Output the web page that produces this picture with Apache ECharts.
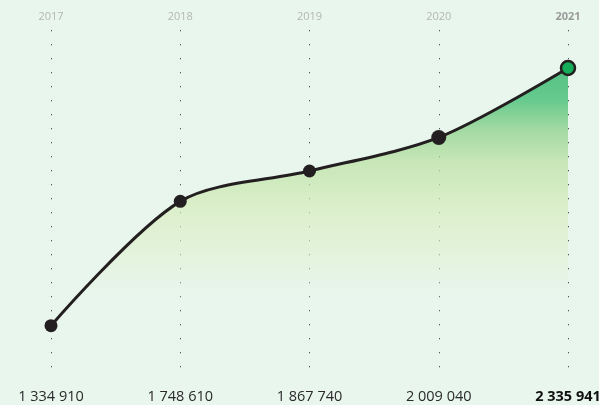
<!DOCTYPE html>
<html>
<head>
<meta charset="utf-8">
<script src="https://cdn.jsdelivr.net/npm/echarts@6/dist/echarts.min.js"></script>
<style>
html,body{margin:0;padding:0;background:#e9f6ee;}
#c{width:599px;height:405px;}
</style>
</head>
<body>
<div id="c"></div>
<script>
var years = ['2017', '2018', '2019', '2020', '2021'];
var values = [1334910, 1748610, 1867740, 2009040, 2335941];
var valueLabels = ['1 334 910', '1 748 610', '1 867 740', '2 009 040', '2 335 941'];

var chart = echarts.init(document.getElementById('c'), null, {renderer: 'canvas'});
var last = years.length - 1;

var seriesData = values.map(function (v, i) {
  var item = {value: v};
  if (i === last) {
    item.symbolSize = 14;
    item.itemStyle = {color: '#15ad5a', borderColor: '#231f20', borderWidth: 2.5};
  } else if (i === 3) {
    item.symbolSize = 15;
  }
  return item;
});

chart.setOption({
  backgroundColor: '#e9f6ee',
  animation: false,
  grid: {left: 51, right: 31, top: 30, bottom: 27, containLabel: false, outerBoundsMode: 'none'},
  xAxis: [{
    type: 'category',
    position: 'top',
    data: years,
    boundaryGap: false,
    axisLine: {show: false},
    axisTick: {show: false},
    axisLabel: {
      margin: 8,
      fontFamily: 'Open Sans',
      fontSize: 11,
      color: '#b3b6b4',
      formatter: function (v, i) { return i === last ? '{b|' + v + '}' : v; },
      rich: {b: {fontFamily: 'Open Sans', fontSize: 11, fontWeight: 'bold', color: '#999b9a'}}
    },
    splitLine: {show: true, lineStyle: {color: 'rgba(30,30,30,0.75)', width: 1, type: [1.3, 12.7]}}
  }, {
    type: 'category',
    position: 'bottom',
    data: years,
    boundaryGap: false,
    axisLine: {show: false},
    axisTick: {show: false},
    axisLabel: {
      margin: 11,
      fontFamily: 'Open Sans',
      fontSize: 14.5,
      color: '#2a2a2a',
      formatter: function (v, i) { return i === last ? '{b|' + valueLabels[i] + '}' : valueLabels[i]; },
      rich: {b: {fontFamily: 'Open Sans', fontSize: 14.5, fontWeight: 'bold', color: '#111'}}
    },
    splitLine: {show: false}
  }],
  yAxis: {
    type: 'log',
    logBase: 10,
    min: 1191600,
    max: 2536860,
    show: false,
    splitLine: {show: false}
  },
  series: [{
    type: 'line',
    xAxisIndex: 0,
    data: seriesData,
    smooth: 0.3,
    symbol: 'circle',
    symbolSize: 13,
    showSymbol: true,
    lineStyle: {color: '#231f20', width: 3},
    itemStyle: {color: '#231f20'},
    areaStyle: {
      origin: 'start',
      color: new echarts.graphic.LinearGradient(0, 0, 0, 1, [
        {offset: 0, color: '#15ab56'},
        {offset: 0.1, color: '#2cb764'},
        {offset: 0.2, color: '#86cd82'},
        {offset: 0.3, color: '#b8e09f'},
        {offset: 0.45, color: '#d6ecbb'},
        {offset: 0.62, color: 'rgba(224,241,210,0.8)'},
        {offset: 0.8, color: 'rgba(233,246,238,0)'},
        {offset: 1, color: 'rgba(233,246,238,0)'}
      ])
    }
  }]
});
</script>
</body>
</html>
